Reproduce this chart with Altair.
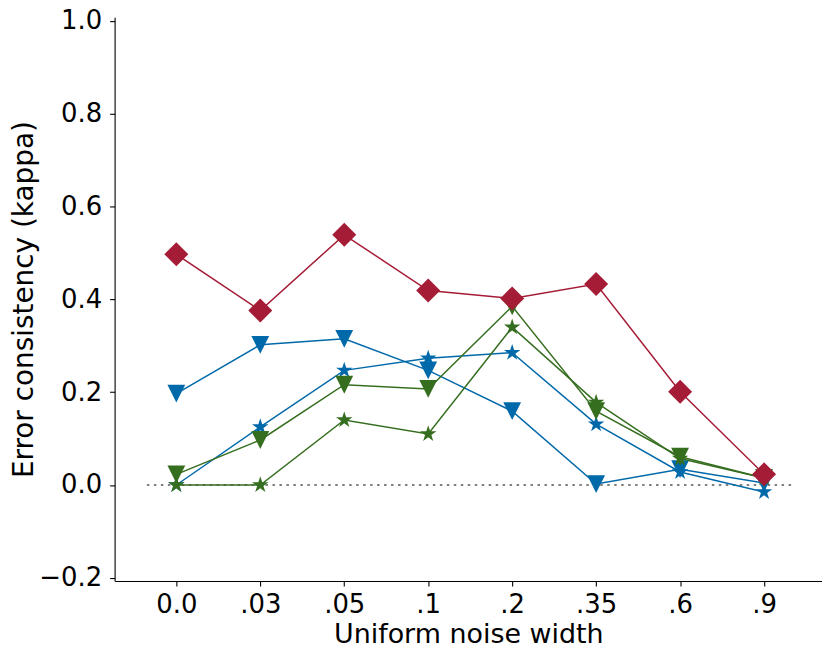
import json
import altair as alt
import pandas as pd

# ---- data ----
noise_labels = ["0.0", ".03", ".05", ".1", ".2", ".35", ".6", ".9"]
x_index = [0, 1, 2, 3, 4, 5, 6, 7]

blue_triangle = [0.197, 0.302, 0.315, 0.247, 0.159, 0.002, 0.034, 0.004]
blue_star = [0.0, 0.125, 0.247, 0.273, 0.285, 0.131, 0.028, -0.015]
green_triangle = [0.023, 0.097, 0.216, 0.207, 0.385, 0.159, 0.061, 0.015]
green_star = [0.0, 0.0, 0.140, 0.110, 0.340, 0.178, 0.057, 0.015]
red_diamond = [0.497, 0.376, 0.539, 0.419, 0.402, 0.433, 0.201, 0.023]

series_names = ["blue_triangle", "blue_star", "green_triangle", "green_star", "red_diamond"]
series_values = [blue_triangle, blue_star, green_triangle, green_star, red_diamond]
series_colors = ["#0069AA", "#0069AA", "#366E20", "#366E20", "#A51C36"]
TRI_DOWN = "M-1,-1L1,-1L0,1Z"
STAR = ("M0,-1L0.225,-0.309L0.951,-0.309L0.363,0.118L0.588,0.809L0,0.382"
        "L-0.588,0.809L-0.363,0.118L-0.951,-0.309L-0.225,-0.309Z")
DIAMOND = "M0,-1L1,0L0,1L-1,0Z"
series_shapes = [TRI_DOWN, STAR, TRI_DOWN, STAR, DIAMOND]
series_sizes = [320, 300, 320, 300, 580]

zero_x = [-0.35, 7.35]
zero_y = [0.0, 0.0]

y_ticks = [-0.2, 0.0, 0.2, 0.4, 0.6, 0.8, 1.0]

rows = []
for name, vals in zip(series_names, series_values):
    for i, v in zip(x_index, vals):
        rows.append({"series": name, "idx": i, "kappa": v, "noise": noise_labels[i]})
df = pd.DataFrame(rows)
zero_df = pd.DataFrame({"idx": zero_x, "kappa": zero_y})

FONT = "DejaVu Sans"

x_scale = alt.Scale(domain=[-0.735, 7.69], nice=False, zero=False)
y_scale = alt.Scale(domain=[-0.207, 1.008], nice=False, zero=False)

x_axis = alt.Axis(
    orient="bottom",
    values=x_index,
    labelExpr=json.dumps(noise_labels) + "[datum.value]",
    labelFlush=False,
    labelOverlap=False,
    labelPadding=6,
    title="Uniform noise width",
    titleY=62,
    titleBaseline="alphabetic",
    titleFontSize=27,
)
y_axis = alt.Axis(
    orient="left",
    values=y_ticks,
    format=".1f",
    labelOverlap=False,
    labelPadding=8,
    title="Error consistency (kappa)",
    titleX=-76,
    titleY=283,
    titleFontSize=28,
)

color = alt.Color("series:N", scale=alt.Scale(domain=series_names, range=series_colors), legend=None)

zero_line = (
    alt.Chart(zero_df)
    .mark_line(color="#808080", strokeWidth=2, strokeDash=[2.5, 4.5])
    .encode(x=alt.X("idx:Q", scale=x_scale, axis=x_axis), y=alt.Y("kappa:Q", scale=y_scale, axis=y_axis))
)

layers = [zero_line]
for name, shape, msize in zip(series_names, series_shapes, series_sizes):
    sub = alt.Chart(df).transform_filter(alt.datum.series == name)
    layers.append(
        sub.mark_line(strokeWidth=1.5).encode(
            x=alt.X("idx:Q", scale=x_scale),
            y=alt.Y("kappa:Q", scale=y_scale),
            color=color,
            order="idx:Q",
        )
    )
    layers.append(
        sub.mark_point(filled=True, opacity=1, shape=shape, size=msize).encode(
            x=alt.X("idx:Q", scale=x_scale),
            y=alt.Y("kappa:Q", scale=y_scale),
            color=color,
        )
    )

chart = (
    alt.layer(*layers)
    .properties(
        width=710,
        height=566,
        autosize=alt.AutoSizeParams(type="none"),
        padding={"left": 107, "top": 8, "right": 0, "bottom": 66},
        background="white",
    )
    .configure_view(stroke=None)
    .configure_axis(
        grid=False,
        domainColor="black",
        domainWidth=1.1,
        tickColor="black",
        tickWidth=1.1,
        tickSize=5,
        labelFont=FONT,
        labelFontSize=26,
        labelColor="black",
        titleFont=FONT,
        titleFontWeight="normal",
        titleColor="black",
    )
)

chart.save("out.html", embed_options={"renderer": "svg", "actions": False})
